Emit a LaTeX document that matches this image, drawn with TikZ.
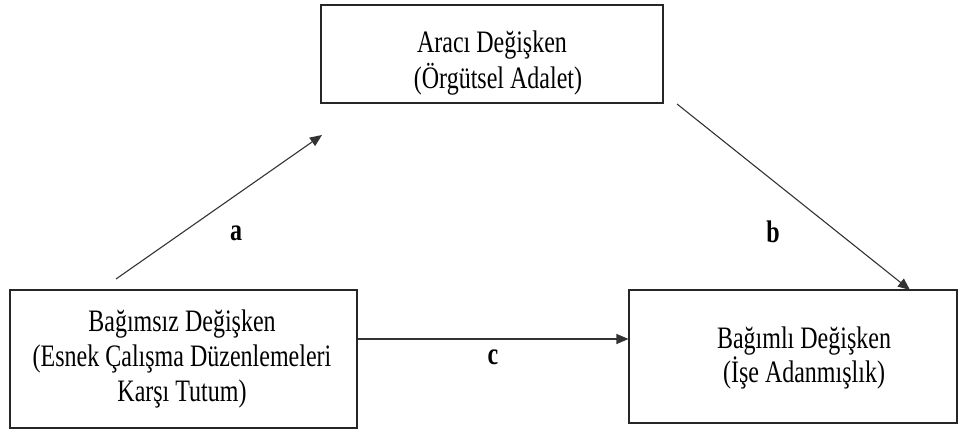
\documentclass[tikz,border=0pt]{standalone}
\usepackage{fontspec}
\usepackage{graphicx}
\setmainfont{Liberation Serif}
\usetikzlibrary{arrows.meta}
% one line of box text, set a little taller than wide
\newcommand{\tline}[1]{\scalebox{1}[1.3]{\strut #1}}
\begin{document}
\lineskiplimit=-100pt
\begin{tikzpicture}[x=1pt,y=-1pt,
  varbox/.style={draw=black!85, line width=1.1pt, rectangle, inner sep=0pt},
  boxtext/.style={align=center, inner sep=0pt,
    font=\fontsize{24}{#1}\selectfont},
  path/.style={draw=black!80, line width=1.1pt,
    -{Triangle[length=12pt,width=10pt]}},
  coef/.style={font=\fontsize{24}{28}\selectfont\bfseries, inner sep=0pt}]
  \useasboundingbox (0,0) rectangle (958,430);

  % the three variables
  \node[varbox, minimum width=342pt, minimum height=98pt] (med) at (492,54) {};
  \node[varbox, minimum width=347pt, minimum height=138pt] (iv) at (183.5,359) {};
  \node[varbox, minimum width=328pt, minimum height=133pt] (dv) at (793,356.5) {};

  \node[boxtext=36] (medText) at (492,61)
    {\tline{Aracı Değişken}\\\tline{\ \ (Örgütsel Adalet)}};
  \node[boxtext=35] (ivText) at (182,357)
    {\tline{Bağımsız Değişken}\\\tline{(Esnek Çalışma Düzenlemeleri}\\\tline{Karşı Tutum)}};
  \node[boxtext=34] (dvText) at (804,357)
    {\tline{Bağımlı Değişken}\\\tline{(İşe Adanmışlık)}};

  % free ends of the paths
  \coordinate (aStart) at (116,279);
  \coordinate (aEnd) at (322,135);
  \coordinate (bStart) at (677,104);
  \coordinate (bEnd) at (910,290);

  % paths a, b, c
  \draw[path] (aStart) -- (aEnd);
  \draw[path] (bStart) -- (bEnd);
  \draw[path] (iv.east |- 0,339) -- (dv.west |- 0,339);

  \node[coef] (la) at (236,233) {\scalebox{1}[1.3]{a}};
  \node[coef] (lb) at (773,232) {\scalebox{1}[1.3]{b}};
  \node[coef] (lc) at (493,357) {\scalebox{1}[1.3]{c}};
\end{tikzpicture}
\end{document}
